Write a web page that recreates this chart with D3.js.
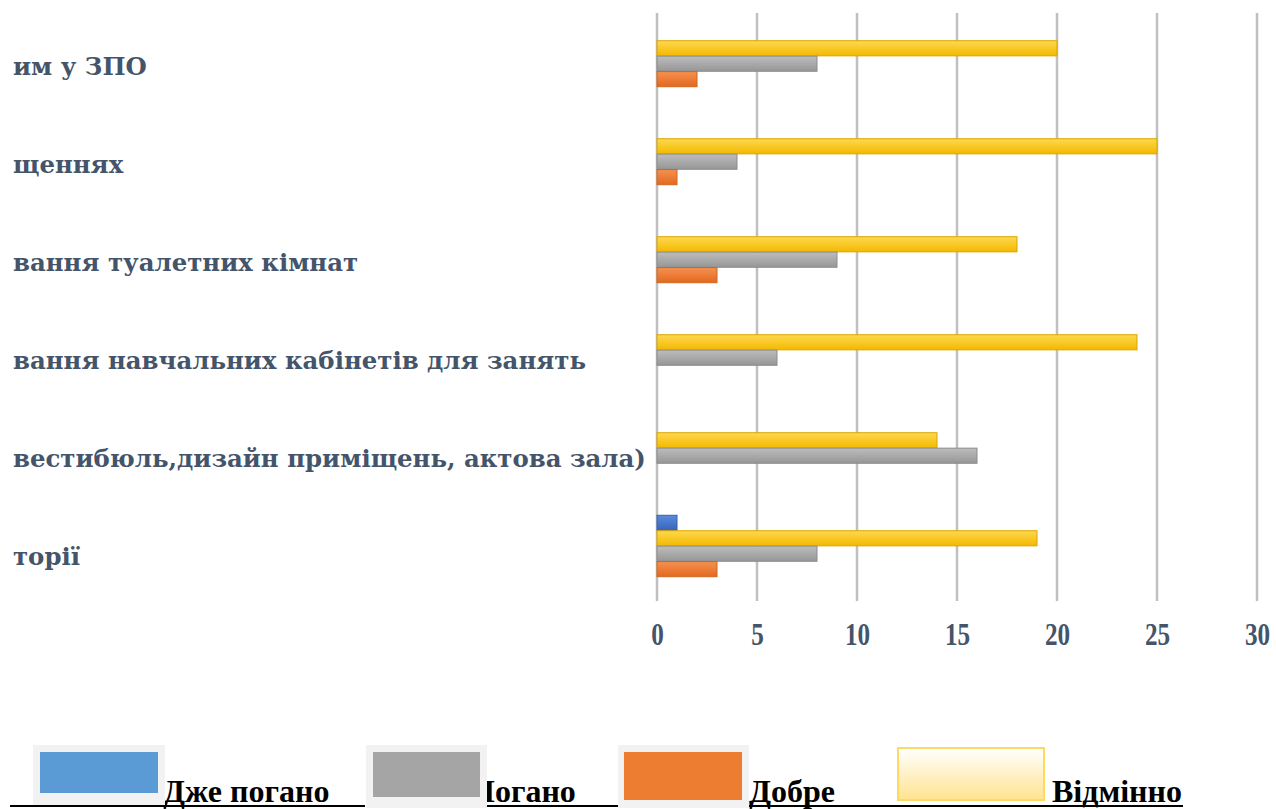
<!DOCTYPE html>
<html>
<head>
<meta charset="utf-8">
<script src="https://cdn.jsdelivr.net/npm/d3@7"></script>
<style>
  html, body { margin: 0; padding: 0; background: #fff; }
  svg { display: block; }
</style>
</head>
<body>
<svg id="chart" width="1276" height="809"></svg>
<script>
// Category labels
const categories = [
  "им у ЗПО",
  "щеннях",
  "вання туалетних кімнат",
  "вання навчальних кабінетів для занять",
  "вестибюль,дизайн приміщень, актова зала)",
  "торії"
];

// Series values, one per category
const veryBad   = [0, 0, 0, 0, 0, 1];
const bad       = [8, 4, 9, 6, 16, 8];
const good      = [2, 1, 3, 0, 0, 3];
const excellent = [20, 25, 18, 24, 14, 19];

const xTicks = [0, 5, 10, 15, 20, 25, 30];
const legendLabels = ["Дже погано", "Погано", "Добре", "Відмінно"];

const svg = d3.select("#chart");
const defs = svg.append("defs");

// Bar fills: soft vertical gradients
const barStyles = {
  veryBad:   { top: "#5A8BDB", bottom: "#3864BC", stroke: "#3A5FA8" },
  excellent: { top: "#FFD84E", bottom: "#F2B900", stroke: "#D9A600" },
  bad:       { top: "#BDBDBD", bottom: "#969696", stroke: "#8C8C8C" },
  good:      { top: "#F6904F", bottom: "#E2691F", stroke: "#D0651E" }
};
Object.entries(barStyles).forEach(([k, s]) => {
  const g = defs.append("linearGradient").attr("id", "g-" + k)
    .attr("x1", 0).attr("y1", 0).attr("x2", 0).attr("y2", 1);
  g.append("stop").attr("offset", "0%").attr("stop-color", s.top);
  g.append("stop").attr("offset", "100%").attr("stop-color", s.bottom);
});
const lg = defs.append("linearGradient").attr("id", "legend-excellent")
  .attr("x1", 0).attr("y1", 0).attr("x2", 0).attr("y2", 1);
lg.append("stop").attr("offset", "0%").attr("stop-color", "#FFFFFF");
lg.append("stop").attr("offset", "100%").attr("stop-color", "#FFE38F");

// Scales
const x = d3.scaleLinear().domain([0, 30]).range([657, 1257]);
const y = d3.scaleBand().domain(d3.range(categories.length))
  .range([7, 595]).paddingInner(0.367).paddingOuter(0.1835);

const seriesOrder = [
  { key: "veryBad", values: veryBad },
  { key: "excellent", values: excellent },
  { key: "bad", values: bad },
  { key: "good", values: good }
];
const ySub = d3.scaleBand().domain(seriesOrder.map(s => s.key))
  .range([0, y.bandwidth()]).padding(0.02);

// Vertical gridlines
svg.append("g").selectAll("line").data(xTicks).join("line")
  .attr("x1", d => x(d)).attr("x2", d => x(d))
  .attr("y1", 13).attr("y2", 601)
  .attr("stroke", "#C0C0C0").attr("stroke-width", 2.5);

// X axis tick labels (tall, narrow serif digits)
const axis = d3.axisBottom(x).tickValues(xTicks).tickSize(0).tickPadding(0);
const axisG = svg.append("g").attr("transform", "translate(0,645)").call(axis);
axisG.select(".domain").remove();
axisG.selectAll(".tick text")
  .attr("dy", 0)
  .attr("y", 0)
  .attr("transform", "scale(0.9,1.1)")
  .attr("font-family", "'Liberation Serif', 'Times New Roman', serif")
  .attr("font-weight", "bold")
  .attr("font-size", 28)
  .attr("fill", "#44546A");

// Bars
const barsG = svg.append("g");
seriesOrder.forEach(s => {
  barsG.append("g").selectAll("rect")
    .data(s.values.map((v, i) => ({ v, i })).filter(d => d.v > 0))
    .join("rect")
    .attr("x", x(0))
    .attr("y", d => y(d.i) + ySub(s.key))
    .attr("width", d => x(d.v) - x(0))
    .attr("height", ySub.bandwidth())
    .attr("fill", "url(#g-" + s.key + ")")
    .attr("stroke", barStyles[s.key].stroke)
    .attr("stroke-width", 1);
});

// Category labels
svg.append("g").selectAll("text").data(categories).join("text")
  .attr("x", 13)
  .attr("y", (d, i) => y(i) + y.bandwidth() / 2 + 19)
  .attr("font-family", "'DejaVu Serif', serif")
  .attr("font-weight", "bold")
  .attr("font-size", 24.4)
  .attr("fill", "#44546A")
  .text(d => d);

// Legend
const legendFont = "'Liberation Serif', 'Times New Roman', serif";
const legendG = svg.append("g");
const underlineY = 806;
[[10, 365], [487, 620], [749, 1183]].forEach(([a, b]) => {
  legendG.append("line").attr("x1", a).attr("x2", b)
    .attr("y1", underlineY).attr("y2", underlineY)
    .attr("stroke", "#000").attr("stroke-width", 2);
});
const legendTextX = [163, 470, 749, 1052];
legendLabels.forEach((l, i) => {
  legendG.append("text")
    .attr("x", legendTextX[i]).attr("y", 802)
    .attr("font-family", legendFont).attr("font-weight", "bold")
    .attr("font-size", 32).attr("fill", "#000")
    .text(l);
});
// Swatches drawn over the text run
const swatchFrames = [
  { fx: 33, fw: 132, fh: 60, ix: 40, iw: 118, ih: 41, fill: "#5B9BD5" },
  { fx: 366, fw: 121, fh: 63, ix: 373, iw: 107, ih: 45, fill: "#A5A5A5" },
  { fx: 618, fw: 131, fh: 63, ix: 624, iw: 118, ih: 48, fill: "#ED7D31" }
];
swatchFrames.forEach(s => {
  legendG.append("rect").attr("x", s.fx).attr("y", 745)
    .attr("width", s.fw).attr("height", s.fh).attr("fill", "#F2F2F2");
  legendG.append("rect").attr("x", s.ix).attr("y", 752)
    .attr("width", s.iw).attr("height", s.ih).attr("fill", s.fill);
});
legendG.append("rect").attr("x", 898).attr("y", 748)
  .attr("width", 146).attr("height", 52)
  .attr("fill", "url(#legend-excellent)")
  .attr("stroke", "#FFD966").attr("stroke-width", 2);
</script>
</body>
</html>
